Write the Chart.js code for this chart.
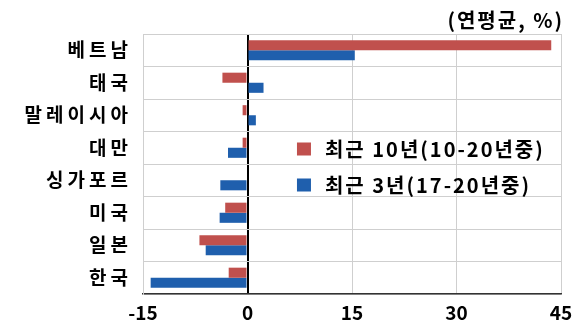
<!DOCTYPE html>
<html>
<head>
<meta charset="utf-8">
<script src="https://cdn.jsdelivr.net/npm/chart.js@4/dist/chart.umd.min.js"></script>
<style>
  html, body { margin: 0; padding: 0; background: #fff; }
  #wrap { width: 572px; height: 332px; position: relative; }
</style>
</head>
<body>
<div id="wrap"><canvas id="c" width="572" height="332"></canvas></div>
<script>
// Countries, top to bottom
const categories = ['베트남', '태국', '말레이시아', '대만', '싱가포르', '미국', '일본', '한국'];
// Annual average growth, %
const recent10 = [43.6, -3.6, -0.7, -0.7, 0.0, -3.2, -6.9, -2.7];
const recent3 = [15.4, 2.3, 1.2, -2.8, -3.9, -4.0, -6.0, -13.9];
const seriesNames = ['최근 10년(10-20년중)', '최근 3년(17-20년중)'];
const xTicks = [-15, 0, 15, 30, 45];
const unitLabel = '(연평균, %)';

const RED = '#C0504D';
const BLUE = '#1F5FAD';
const FONT = "'Noto Sans CJK KR', 'Noto Sans', sans-serif";

// Draw a scale's labels with extra letter spacing
function spacedLabels(scale, spacing) {
  if (scale._spaced) return;
  scale._spaced = true;
  const orig = scale.drawLabels;
  scale.drawLabels = function (area) {
    const ctx = this.ctx;
    ctx.save();
    ctx.letterSpacing = spacing;
    orig.call(this, area);
    ctx.restore();
  };
}

// Legend drawn inside the plot, plus the unit note at top right
const overlay = {
  id: 'overlay',
  afterDraw(chart) {
    const ctx = chart.ctx;
    const xs = chart.scales.x;
    const area = chart.chartArea;
    ctx.save();
    ctx.letterSpacing = '2px';
    ctx.font = 'bold 20px ' + FONT;
    ctx.fillStyle = '#000';
    ctx.textAlign = 'right';
    ctx.textBaseline = 'middle';
    ctx.fillText(unitLabel, area.right + 3, 20);

    const lx = xs.getPixelForValue(7.1);
    const rows = [149, 185];
    chart.data.datasets.forEach((ds, i) => {
      const y = rows[i];
      ctx.fillStyle = ds.backgroundColor;
      ctx.fillRect(lx, y - 6.5, 14, 13);
      ctx.fillStyle = '#000';
      ctx.textAlign = 'left';
      ctx.font = 'bold 20px ' + FONT;
      ctx.fillText(ds.label, lx + 28, y);
    });
    ctx.restore();
  }
};

new Chart(document.getElementById('c'), {
  type: 'bar',
  data: {
    labels: categories,
    datasets: [
      { label: seriesNames[0], data: recent10, backgroundColor: RED },
      { label: seriesNames[1], data: recent3, backgroundColor: BLUE }
    ]
  },
  options: {
    indexAxis: 'y',
    responsive: false,
    animation: false,
    devicePixelRatio: 1,
    layout: { padding: { top: 34, right: 0, bottom: 0, left: 0 } },
    datasets: { bar: { categoryPercentage: 0.62, barPercentage: 1.0 } },
    plugins: { legend: { display: false }, tooltip: { enabled: false } },
    scales: {
      x: {
        min: -15, max: 45,
        afterBuildTicks(scale) { scale.ticks = xTicks.map(v => ({ value: v })); },
        afterFit(scale) {
          scale.height = 38;
          scale.paddingRight = 11;
        },
        grid: {
          color: c => c.tick && c.tick.value === 0 ? '#000' : '#cfcfcf',
          lineWidth: c => c.tick && c.tick.value === 0 ? 2 : 1,
          drawTicks: false
        },
        border: { color: '#333', width: 1.5 },
        ticks: {
          padding: 7,
          color: '#000',
          font: { family: FONT, size: 19, weight: 'bold' }
        }
      },
      y: {
        afterFit(scale) { scale.width = 143; spacedLabels(scale, '4px'); },
        grid: { color: '#cfcfcf', lineWidth: 1, drawTicks: false, offset: true },
        border: { color: '#cfcfcf' },
        ticks: {
          padding: 11,
          color: '#000',
          font: { family: FONT, size: 19, weight: 'bold' }
        }
      }
    }
  },
  plugins: [overlay]
});
</script>
</body>
</html>
